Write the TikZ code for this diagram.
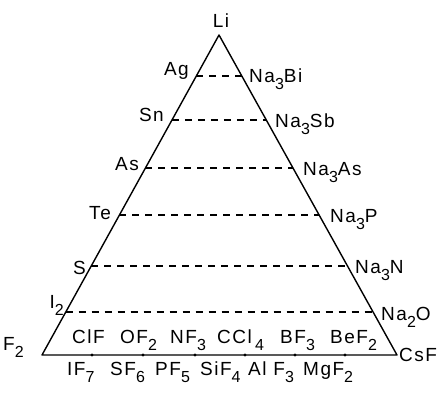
\documentclass[tikz,border=0pt]{standalone}
\usepackage{fontspec}
\usetikzlibrary{calc}
\setmainfont[LetterSpace=8]{Liberation Sans}
\newcommand\sbs[1]{\raisebox{-0.75ex}{\fontsize{16}{16}\selectfont #1}}
\begin{document}
\begin{tikzpicture}[x=1pt,y=-1pt,
  edge/.style={line width=1.4pt,line join=round},
  tie/.style={line width=1.4pt,dash pattern=on 7pt off 6pt},
  lbl/.style={inner sep=0pt,font=\fontsize{19}{19}\selectfont},
  lft/.style={lbl,anchor=base east},
  rgt/.style={lbl,anchor=base west},
  row/.style={lbl,anchor=base west},
  tick/.style={fill=black,circle,inner sep=0pt,minimum size=3.2pt}]
\useasboundingbox (0,0) rectangle (443,394);
\coordinate (top) at (219,35);
\coordinate (bl) at (42,355);
\coordinate (br) at (397,355);
\draw[edge] (bl) -- (top) -- (br) -- cycle;
% dashed tie lines
\foreach \n/\t in {ag/0.128,sn/0.266,as/0.416,te/0.5625,s/0.722,i/0.866}{
  \coordinate (L\n) at ($(top)!\t!(bl)$);
  \coordinate (R\n) at ($(top)!\t!(br)$);
}
\foreach \n in {ag,sn,as,te,s,i}{\draw[tie] (L\n) -- (R\n);}
% ticks on the base
\foreach \x [count=\k] in {92,143,195,245,295,345}{
  \node[tick] (t\k) at (\x,355) {};
}
% vertex labels
\node[lbl,anchor=base] (Li) at (221,27) {Li};
\node[lbl,anchor=base west] (F2) at (3,350) {F\sbs{2}};
\node[rgt] (CsF) at (399,361) {CsF};
% left labels
\node[lft] (Ag) at (189,75) {Ag};
\node[lft] (Sn) at (164,121) {Sn};
\node[lft] (As) at (139,170) {As};
\node[lft] (Te) at (111,219) {Te};
\node[lft] (S) at (86,274) {S};
\node[lft] (I2) at (64,308) {I\sbs{2}};
% right labels
\node[rgt] (Na3Bi) at (249,82) {Na\sbs{3}Bi};
\node[rgt] (Na3Sb) at (275,127) {Na\sbs{3}Sb};
\node[rgt] (Na3As) at (303,175) {Na\sbs{3}As};
\node[rgt] (Na3P) at (330,222) {Na\sbs{3}P};
\node[rgt] (Na3N) at (355,273) {Na\sbs{3}N};
\node[rgt] (Na2O) at (381,320) {Na\sbs{2}O};
% inner row
\node[row] (ClF) at (72,343) {ClF};
\node[row] (OF2) at (120,343) {OF\sbs{2}};
\node[row] (NF3) at (170,343) {NF\sbs{3}};
\node[row] (CCl4) at (217,343) {CCl\,\sbs{4}};
\node[row] (BF3) at (280,343) {BF\sbs{3}};
\node[row] (BeF2) at (330,343) {BeF\sbs{2}};
% bottom row
\node[row] (IF7) at (67,375) {IF\sbs{7}};
\node[row] (SF6) at (110,375) {SF\sbs{6}};
\node[row] (PF5) at (155,375) {PF\sbs{5}};
\node[row] (SiF4) at (200,375) {SiF\sbs{4}};
\node[row] (AlF3) at (248,375) {Al F\sbs{3}};
\node[row] (MgF2) at (303,375) {MgF\sbs{2}};
\end{tikzpicture}
\end{document}
